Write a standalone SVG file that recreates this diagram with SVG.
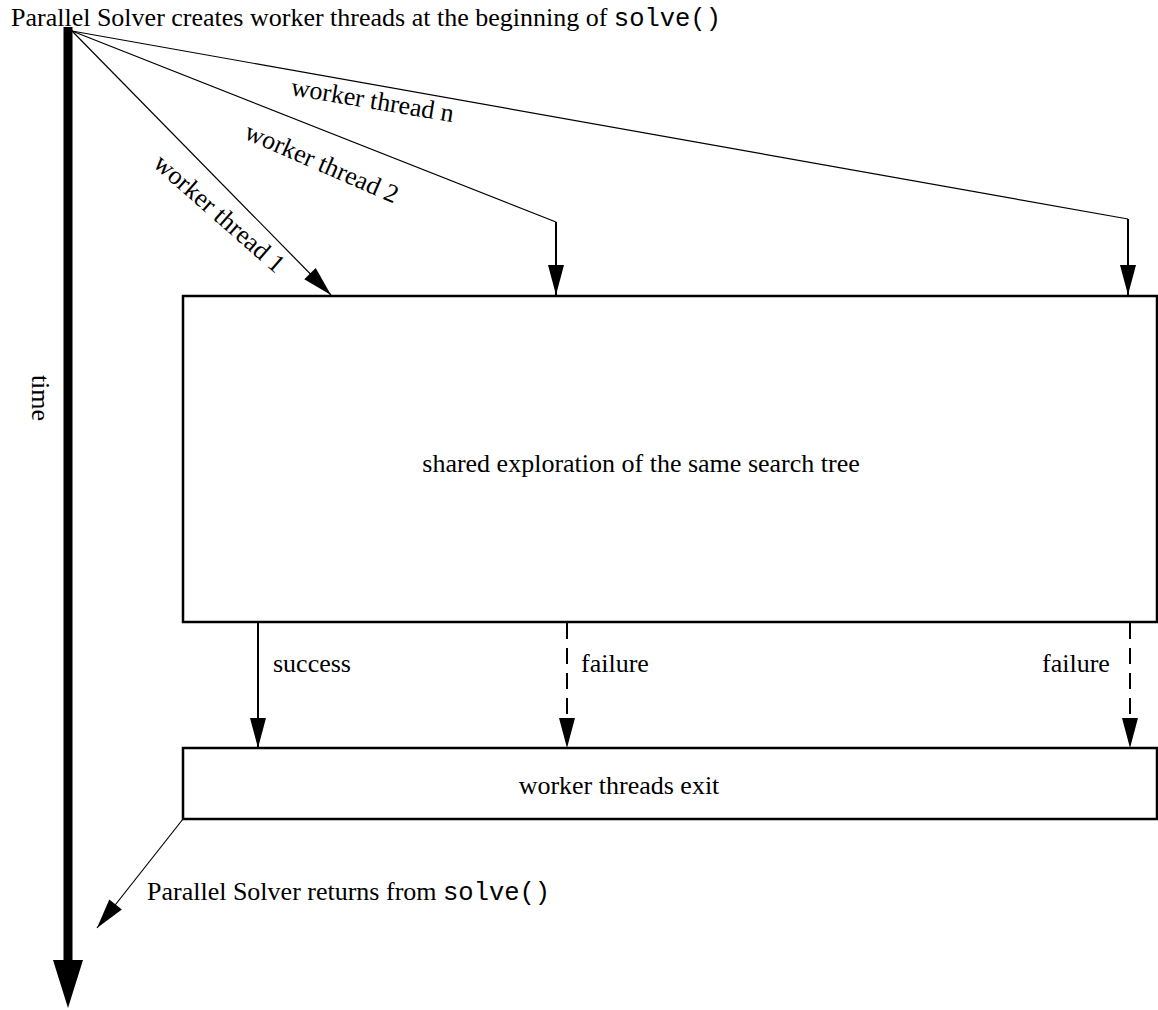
<svg xmlns="http://www.w3.org/2000/svg" width="1158" height="1010" viewBox="0 0 1158 1010">
<style>
.t{font-family:"Liberation Serif","Times New Roman",serif;font-size:26px;fill:#000}
.m{font-family:"Liberation Mono","Courier New",monospace;font-size:25.5px}
.box{fill:#fff;stroke:#000;stroke-width:2.5}
.ln{fill:none;stroke:#000;stroke-width:1.2}
.sh{fill:none;stroke:#000;stroke-width:2}
.dash{stroke-dasharray:16 9}
</style>
<defs>
<marker id="ah" markerUnits="userSpaceOnUse" markerWidth="30" markerHeight="16" refX="30" refY="8" orient="auto" overflow="visible">
<path d="M0,0 L30,8 L0,16 z" fill="#000" stroke="none"/>
</marker>
</defs>
<g id="timeline">
<line x1="68" y1="27" x2="68" y2="962" stroke="#000" stroke-width="9"/>
<polygon points="53,960 83,960 68,1008" fill="#000"/>
<text class="t" transform="translate(32,398) rotate(90)" text-anchor="middle">time</text>
</g>
<g id="start-label">
<text class="t" x="11" y="26">Parallel Solver creates worker threads at the beginning of <tspan class="m">solve()</tspan></text>
</g>
<g id="shared-box">
<rect class="box" x="183" y="296" width="974" height="326"/>
<text class="t" x="641" y="472" text-anchor="middle">shared exploration of the same search tree</text>
</g>
<g id="exit-box">
<rect class="box" x="183" y="748" width="974" height="71"/>
<text class="t" x="619" y="794" text-anchor="middle">worker threads exit</text>
</g>
<g id="return-label">
<text class="t" x="147" y="900">Parallel Solver returns from <tspan class="m">solve()</tspan></text>
</g>
<g id="connectors">
<line class="ln" x1="72" y1="31" x2="331" y2="295" marker-end="url(#ah)"/>
<polyline class="ln" points="72,31 556,222"/>
<line class="sh" x1="556" y1="222" x2="556" y2="295" marker-end="url(#ah)"/>
<polyline class="ln" points="72,31 1128,219"/>
<line class="sh" x1="1128" y1="219" x2="1128" y2="295" marker-end="url(#ah)"/>
<line class="sh" x1="258" y1="622" x2="258" y2="748" marker-end="url(#ah)"/>
<line class="sh dash" x1="567" y1="623" x2="567" y2="748" marker-end="url(#ah)"/>
<line class="sh dash" x1="1130" y1="623" x2="1130" y2="748" marker-end="url(#ah)"/>
<line class="ln" x1="183" y1="819" x2="97" y2="928" marker-end="url(#ah)"/>
<text class="t" transform="translate(290,95) rotate(9.5)">worker thread n</text>
<text class="t" transform="translate(243,138) rotate(23.5)">worker thread 2</text>
<text class="t" transform="translate(152,165.5) rotate(41.3)">worker thread 1</text>
<text class="t" x="273" y="672">success</text>
<text class="t" x="581" y="672">failure</text>
<text class="t" x="1042" y="672">failure</text>
</g>
</svg>
